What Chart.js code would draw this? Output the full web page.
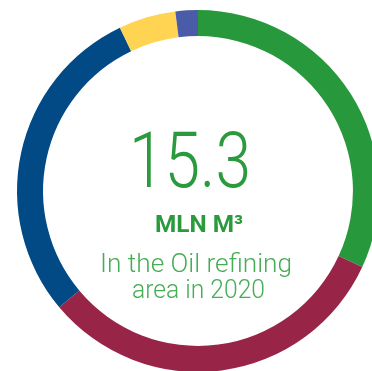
<!DOCTYPE html>
<html>
<head>
<meta charset="utf-8">
<script src="https://cdn.jsdelivr.net/npm/chart.js@4"></script>
<style>
  html, body { margin: 0; padding: 0; background: #ffffff; overflow: hidden; }
  #wrap { position: absolute; left: 0; top: 0; width: 372px; height: 371px; overflow: hidden; }
  canvas { position: absolute; left: 0; top: 0; }
</style>
</head>
<body>
<div id="wrap"><canvas id="donut" width="396" height="382"></canvas></div>
<script>
// shares of each activity, percent
const labels = ['Green', 'Crimson', 'Dark blue', 'Yellow', 'Blue'];
const shares = [31.9, 32.0, 29.0, 5.1, 2.0];
const colors = ['#27983b', '#982548', '#014a86', '#fed452', '#4a5ba7'];

const bigValue = '15.3';
const unitText = 'MLN M³';
const captionLines = ['In the Oil refining', 'area in 2020'];

// draws the centre text, squeezed horizontally to the width of a condensed face
const centreText = {
    id: 'centreText',
    afterDraw(chart) {
        const ctx = chart.ctx;
        const meta = chart.getDatasetMeta(0).data[0];
        const cx = meta.x, cy = meta.y;

        function put(text, font, color, dx, dy, width) {
            ctx.save();
            ctx.font = font;
            ctx.fillStyle = color;
            ctx.textBaseline = 'alphabetic';
            ctx.textAlign = 'left';
            const w = ctx.measureText(text).width;
            const k = width / w;
            ctx.translate(cx + dx - width / 2, cy + dy);
            ctx.scale(k, 1);
            ctx.fillText(text, 0, 0);
            ctx.restore();
        }

        put(bigValue, '300 77px Roboto', '#2a9a3c', -8, -4, 122);
        put(unitText, 'bold 24px Roboto', '#2a9a3c', 1, 41, 88);
        put(captionLines[0], '300 26px Roboto', '#46ad56', -2, 81, 192);
        put(captionLines[1], '300 26px Roboto', '#46ad56', 0.5, 107, 133);
    }
};

new Chart(document.getElementById('donut'), {
    type: 'doughnut',
    data: {
        labels: labels,
        datasets: [{
            data: shares,
            backgroundColor: colors,
            borderWidth: 0,
            hoverOffset: 0
        }]
    },
    options: {
        responsive: false,
        animation: false,
        cutout: '85.6%',
        layout: { padding: 10 },
        plugins: {
            legend: { display: false },
            tooltip: { enabled: false }
        }
    },
    plugins: [centreText]
});
</script>
</body>
</html>
